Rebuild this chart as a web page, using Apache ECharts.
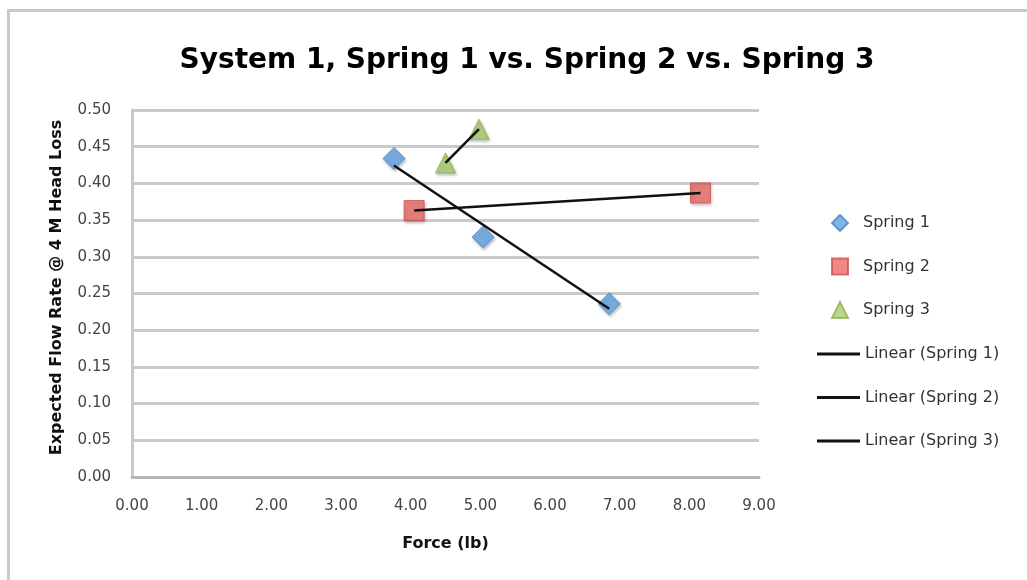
<!DOCTYPE html>
<html>
<head>
<meta charset="utf-8">
<script src="https://cdn.jsdelivr.net/npm/echarts@6/dist/echarts.min.js"></script>
<style>
  html, body { margin: 0; padding: 0; background: #fff; }
  #chart { width: 1027px; height: 580px; }
</style>
</head>
<body>
<div id="chart"></div>
<script>
// Measured force (lb) and expected flow rate for each spring
var spring1Force = [3.76, 5.04, 6.85];
var spring1Flow  = [0.434, 0.327, 0.236];
var spring2Force = [4.05, 8.16];
var spring2Flow  = [0.363, 0.387];
var spring3Force = [4.50, 4.98];
var spring3Flow  = [0.428, 0.474];

var seriesNames = ['Spring 1', 'Spring 2', 'Spring 3'];
var trendNames  = ['Linear (Spring 1)', 'Linear (Spring 2)', 'Linear (Spring 3)'];

var FONT = 'DejaVu Sans';

function pairs(xs, ys) {
  return xs.map(function (x, i) { return [x, ys[i]]; });
}

// Least-squares line over the data's own x range
function linearFit(xs, ys) {
  var n = xs.length, mx = 0, my = 0;
  for (var i = 0; i < n; i++) { mx += xs[i]; my += ys[i]; }
  mx /= n; my /= n;
  var sxy = 0, sxx = 0;
  for (var j = 0; j < n; j++) {
    sxy += (xs[j] - mx) * (ys[j] - my);
    sxx += (xs[j] - mx) * (xs[j] - mx);
  }
  var slope = sxy / sxx, icpt = my - slope * mx;
  var x0 = Math.min.apply(null, xs), x1 = Math.max.apply(null, xs);
  return [[x0, icpt + slope * x0], [x1, icpt + slope * x1]];
}

var markerShadow = { shadowBlur: 3, shadowOffsetX: 1, shadowOffsetY: 2, shadowColor: 'rgba(0,0,0,0.3)' };

function scatter(name, xs, ys, symbol, size, fill, stroke) {
  return {
    name: name, type: 'scatter', data: pairs(xs, ys),
    symbol: symbol, symbolSize: size,
    itemStyle: Object.assign({ color: fill, borderColor: stroke, borderWidth: 1 }, markerShadow)
  };
}

function trend(name, xs, ys) {
  return {
    name: name, type: 'line', data: linearFit(xs, ys),
    showSymbol: false, symbol: 'none', silent: true,
    lineStyle: { color: '#111', width: 2.5 },
    itemStyle: { color: '#111' }
  };
}

var legendText = { fontFamily: FONT, fontSize: 16, color: '#333' };

var chart = echarts.init(document.getElementById('chart'));
chart.setOption({
  backgroundColor: '#fff',
  animation: false,
  graphic: [{
    type: 'rect', left: 6, top: 8,
    shape: { width: 1040, height: 600 },
    style: { fill: 'none', stroke: '#c9c9c9', lineWidth: 3 },
    z: -1
  }],
  title: {
    text: 'System 1, Spring 1 vs. Spring 2 vs. Spring 3',
    left: 522, top: 42, textAlign: 'center',
    textStyle: { fontFamily: FONT, fontWeight: 'bold', fontSize: 28, color: '#000' }
  },
  grid: { left: 132, right: 268, top: 110, bottom: 103 },
  xAxis: {
    type: 'value', min: 0, max: 9, interval: 1,
    name: 'Force (lb)', nameLocation: 'middle', nameGap: 59,
    nameTextStyle: { fontFamily: FONT, fontWeight: 'bold', fontSize: 16, color: '#111' },
    axisLine: { show: true, lineStyle: { color: '#b5b5b5', width: 3 } },
    axisTick: { show: false },
    splitLine: { show: false },
    axisLabel: {
      margin: 22, fontFamily: FONT, fontSize: 15, color: '#444',
      formatter: function (v) { return v.toFixed(2); }
    }
  },
  yAxis: {
    type: 'value', min: 0, max: 0.5, interval: 0.05,
    name: 'Expected Flow Rate @ 4 M Head Loss', nameLocation: 'middle', nameGap: 67,
    nameTextStyle: { fontFamily: FONT, fontWeight: 'bold', fontSize: 16, color: '#111', padding: [0, 0, 0, 12] },
    axisLine: { show: true, lineStyle: { color: '#c8c8c8', width: 3 } },
    axisTick: { show: false },
    splitLine: { show: true, lineStyle: { color: '#cacaca', width: 3 } },
    axisLabel: {
      margin: 21, fontFamily: FONT, fontSize: 15, color: '#444',
      formatter: function (v) { return v.toFixed(2); }
    }
  },
  legend: [{
    orient: 'vertical', left: 826, top: 209,
    itemWidth: 16, itemHeight: 16, itemGap: 25.5,
    textStyle: Object.assign({ padding: [0, 0, 0, 10] }, legendText),
    data: seriesNames
  }, {
    orient: 'vertical', left: 812, top: 341,
    itemWidth: 43, itemHeight: 3, itemGap: 27.5,
    textStyle: legendText,
    data: trendNames.map(function (n) { return { name: n, icon: 'rect' }; })
  }],
  series: [
    scatter(seriesNames[0], spring1Force, spring1Flow, 'diamond', 22, '#62a3e2', '#4a87c8'),
    scatter(seriesNames[1], spring2Force, spring2Flow, 'rect', 20, '#ec6a67', '#c9504c'),
    scatter(seriesNames[2], spring3Force, spring3Flow, 'triangle', 20, '#a9cd6c', '#8fb352'),
    trend(trendNames[0], spring1Force, spring1Flow),
    trend(trendNames[1], spring2Force, spring2Flow),
    trend(trendNames[2], spring3Force, spring3Flow)
  ]
});
</script>
</body>
</html>
